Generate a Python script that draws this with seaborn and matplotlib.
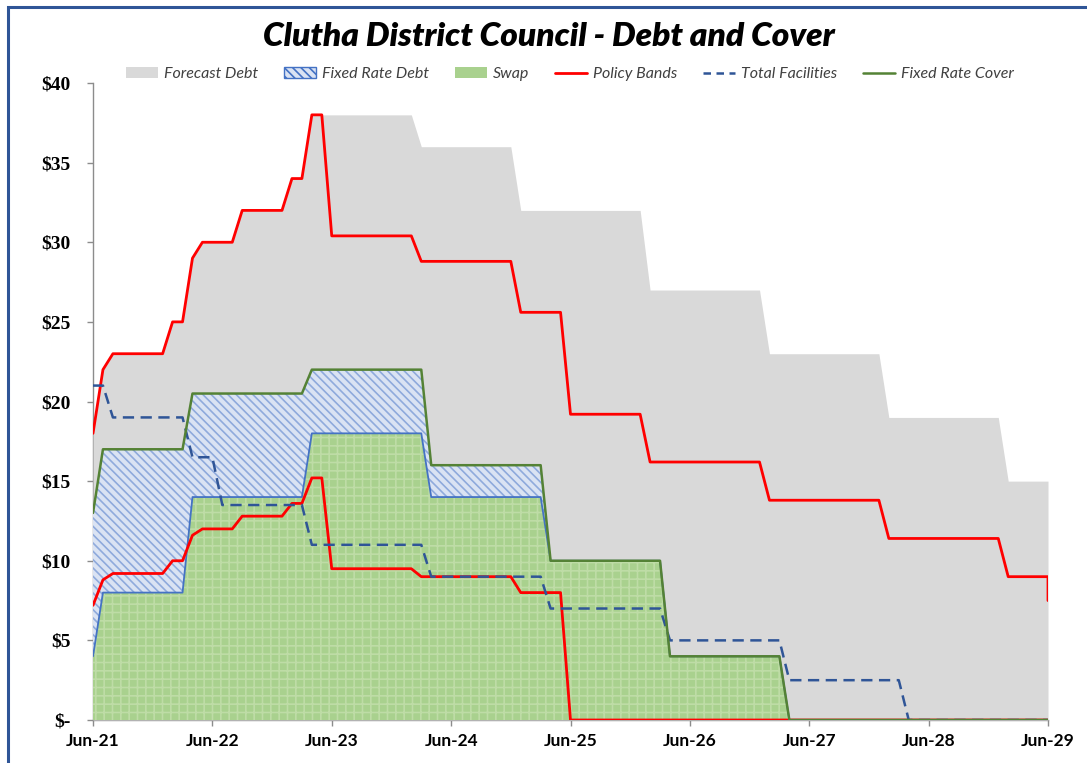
import numpy as np
import pandas as pd
import matplotlib
matplotlib.use("Agg")
import matplotlib.pyplot as plt
from matplotlib.patches import Patch, Rectangle
from matplotlib.lines import Line2D
import seaborn as sns

# ---------------- data (month offsets from Jun-21) ----------------
tick_labels = ["Jun-21", "Jun-22", "Jun-23", "Jun-24", "Jun-25",
               "Jun-26", "Jun-27", "Jun-28", "Jun-29"]

debt_months = [0, 1, 2, 7, 8, 9, 10, 11, 14, 15, 19, 20, 21, 22, 32, 33,
               42, 43, 55, 56, 67, 68, 79, 80, 91, 92, 96]
debt_values = [18, 22, 23, 23, 25, 25, 29, 30, 30, 32, 32, 34, 34, 38, 38, 36,
               36, 32, 32, 27, 27, 23, 23, 19, 19, 15, 15]

upper_months = [0, 1, 2, 7, 8, 9, 10, 11, 14, 15, 19, 20, 21, 22, 23, 24, 32,
                33, 42, 43, 47, 48, 55, 56, 67, 68, 79, 80, 91, 92, 96, 96]
upper_values = [18, 22, 23, 23, 25, 25, 29, 30, 30, 32, 32, 34, 34, 38, 38,
                30.4, 30.4, 28.8, 28.8, 25.6, 25.6, 19.2, 19.2, 16.2, 16.2,
                13.8, 13.8, 11.4, 11.4, 9.0, 9.0, 7.5]

lower_months = [0, 1, 2, 7, 8, 9, 10, 11, 14, 15, 19, 20, 21, 22, 23, 24, 32,
                33, 42, 43, 47, 48, 96]
lower_values = [7.2, 8.8, 9.2, 9.2, 10, 10, 11.6, 12, 12, 12.8, 12.8, 13.6,
                13.6, 15.2, 15.2, 9.5, 9.5, 9.0, 9.0, 8.0, 8.0, 0, 0]

fac_months = [0, 1, 2, 9, 10, 12, 13, 21, 22, 33, 34, 45, 46, 57, 58, 69, 70,
              81, 82, 96]
fac_values = [21, 21, 19, 19, 16.5, 16.5, 13.5, 13.5, 11, 11, 9, 9, 7, 7, 5, 5,
              2.5, 2.5, 0, 0]

cover_months = [0, 1, 9, 10, 21, 22, 33, 34, 45, 46, 57, 58, 69, 70, 96]
cover_values = [13, 17, 17, 20.5, 20.5, 22, 22, 16, 16, 10, 10, 4, 4, 0, 0]
swap_values = [4, 8, 8, 14, 14, 18, 18, 14, 14, 10, 10, 4, 4, 0, 0]

# ---------------- styling ----------------
sns.set_theme(style="white")
plt.rcParams["font.family"] = ["Lato", "DejaVu Sans"]
plt.rcParams["hatch.linewidth"] = 1.2

W, H = 1087, 763
fig = plt.figure(figsize=(W / 100, H / 100), dpi=100)
ax = fig.add_axes([93 / W, (H - 720) / H, (1048 - 93) / W, (720 - 83) / H])
ax.set_facecolor("white")

GRAY = "#D9D9D9"
RED = "#FF0000"
BLUE = "#2F5597"
LBLUE = "#4472C4"
GREEN_LINE = "#548235"
SWAP_FC = "#A9D18E"
FIX_FC = "#DAE3F3"

# Forecast debt area
ax.fill_between(debt_months, 0, debt_values, color=GRAY, lw=0, zorder=1)

# Swap area (bottom)
ax.fill_between(cover_months, 0, swap_values, facecolor=SWAP_FC,
                edgecolor="#BEDCA6", hatch="++", lw=0, zorder=2)
# Fixed rate debt area (stacked)
ax.fill_between(cover_months, swap_values, cover_values, facecolor=FIX_FC,
                edgecolor="#8FAADC", hatch="\\\\\\\\", lw=0, zorder=2)

df_swap = pd.DataFrame({"m": cover_months, "v": swap_values})
sns.lineplot(data=df_swap, x="m", y="v", ax=ax, color=LBLUE, lw=1.3,
             estimator=None, sort=False, zorder=3)

df_up = pd.DataFrame({"m": upper_months, "v": upper_values})
df_lo = pd.DataFrame({"m": lower_months, "v": lower_values})
sns.lineplot(data=df_up, x="m", y="v", ax=ax, color=RED, lw=2.0,
             estimator=None, sort=False, zorder=4)
sns.lineplot(data=df_lo, x="m", y="v", ax=ax, color=RED, lw=2.0,
             estimator=None, sort=False, zorder=4)

df_fac = pd.DataFrame({"m": fac_months, "v": fac_values})
sns.lineplot(data=df_fac, x="m", y="v", ax=ax, color=BLUE, lw=1.8,
             linestyle=(0, (4.5, 2.6)), estimator=None, sort=False, zorder=5)

df_cov = pd.DataFrame({"m": cover_months, "v": cover_values})
sns.lineplot(data=df_cov, x="m", y="v", ax=ax, color=GREEN_LINE, lw=1.8,
             estimator=None, sort=False, zorder=6)

# ---------------- axes ----------------
ax.set_xlim(0, 96)
ax.set_ylim(0, 40)
ax.set_xlabel("")
ax.set_ylabel("")
ax.set_xticks(np.arange(0, 97, 12))
ax.set_xticklabels(tick_labels)
yt = np.arange(0, 41, 5)
ax.set_yticks(yt)
ax.set_yticklabels(["$-"] + [f"${v}" for v in yt[1:]])

for s in ["top", "right"]:
    ax.spines[s].set_visible(False)
for s in ["left", "bottom"]:
    ax.spines[s].set_color("#8C8C8C")
    ax.spines[s].set_linewidth(1.0)
    ax.spines[s].set_zorder(0.5)

ax.tick_params(axis="y", which="major", left=True, length=4, width=1,
               color="#8C8C8C", pad=12)
ax.tick_params(axis="x", which="major", bottom=True, length=4, width=1,
               color="#8C8C8C", pad=5)
for lab in ax.get_yticklabels():
    lab.set_fontfamily(["Liberation Serif", "DejaVu Serif"])
    lab.set_fontweight("bold")
    lab.set_fontsize(14)
    lab.set_color("black")
for lab in ax.get_xticklabels():
    lab.set_fontfamily(["Lato", "DejaVu Sans"])
    lab.set_fontweight("bold")
    lab.set_fontsize(12.5)
    lab.set_color("black")

# ---------------- title & legend ----------------
fig.text(549 / W, 1 - 37 / H, "Clutha District Council - Debt and Cover",
         ha="center", va="center", fontsize=24, fontweight="heavy",
         fontstyle="italic", family=["Lato", "DejaVu Sans"], color="black")

handles = [
    Patch(facecolor=GRAY, edgecolor="none", label="Forecast Debt"),
    Patch(facecolor=FIX_FC, edgecolor=LBLUE, hatch="\\\\\\\\", lw=1,
          label="Fixed Rate Debt"),
    Patch(facecolor=SWAP_FC, edgecolor="none", label="Swap"),
    Line2D([], [], color=RED, lw=2, label="Policy Bands"),
    Line2D([], [], color=BLUE, lw=1.8, linestyle=(0, (3, 2.2)),
           label="Total Facilities"),
    Line2D([], [], color=GREEN_LINE, lw=1.8, label="Fixed Rate Cover"),
]
leg = fig.legend(handles=handles, loc="center", ncol=6,
                 bbox_to_anchor=(570 / W, 1 - 74 / H), frameon=False,
                 prop={"family": ["Lato", "DejaVu Sans"], "style": "italic",
                       "size": 11.5},
                 handlelength=2.0, handleheight=0.75, columnspacing=1.6,
                 handletextpad=0.4)
for t in leg.get_texts():
    t.set_color("#404040")

# outer frame
fig.patches.append(Rectangle((8 / W, -0.2), 1.5, 1.2 - 7 / H,
                             transform=fig.transFigure, fill=False,
                             edgecolor="#2F5597", lw=2.2, zorder=10))

fig.savefig("out.png", dpi=100, facecolor="white")
